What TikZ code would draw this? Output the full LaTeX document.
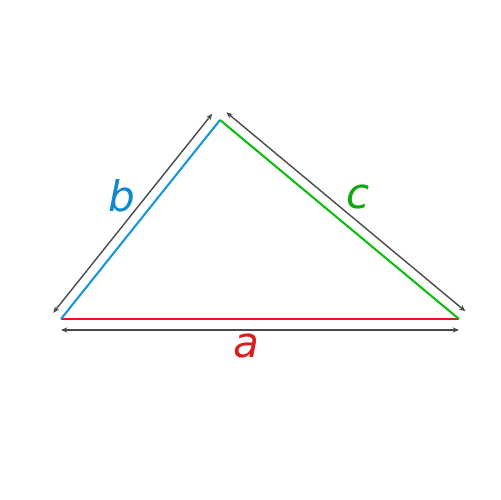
\documentclass[tikz,border=0pt]{standalone}
\usepackage{fontspec}
\setmainfont{DejaVu Sans}
\usetikzlibrary{arrows.meta}
\definecolor{sidea}{HTML}{E8141E}
\definecolor{sideb}{HTML}{1A96DC}
\definecolor{sidec}{HTML}{10BE10}
\definecolor{laba}{HTML}{D81E1E}
\definecolor{labb}{HTML}{0F8AD0}
\definecolor{labc}{HTML}{10A810}
\definecolor{dimgray}{HTML}{4A4A4A}
\tikzset{
  side/.style={line width=1.2pt},
  dim/.style={{Stealth[length=3.6pt,width=3pt]}-{Stealth[length=3.6pt,width=3pt]}, line width=0.8pt, dimgray},
  lab/.style={inner sep=0pt, font=\fontsize{24}{28}\selectfont\itshape},
}

\begin{document}
\begin{tikzpicture}[x=0.02cm, y=-0.02cm]
\useasboundingbox (0,0) rectangle (500,500);

% vertices
\coordinate (L) at (61,319);
\coordinate (T) at (220,120);
\coordinate (R) at (459,319);

% sides
\draw[side, sidea] (L) -- (R);
\draw[side, sideb] (L) -- (T);
\draw[side, sidec] (T) -- (R);

% dimension arrows
\draw[dim] ([yshift=-11*0.02cm]L) -- ([yshift=-11*0.02cm]R);
\draw[dim] ([shift={(-7.8,-6.2)}]L) -- ([shift={(-7.8,-6.2)}]T);
\draw[dim] ([shift={(6.4,-7.7)}]T) -- ([shift={(6.4,-7.7)}]R);

% labels
\node[lab, laba] (a) at (246,346) {a};
\node[lab, labb] (b) at (122,196) {b};
\node[lab, labc] (c) at (358,197) {c};

\end{tikzpicture}
\end{document}
